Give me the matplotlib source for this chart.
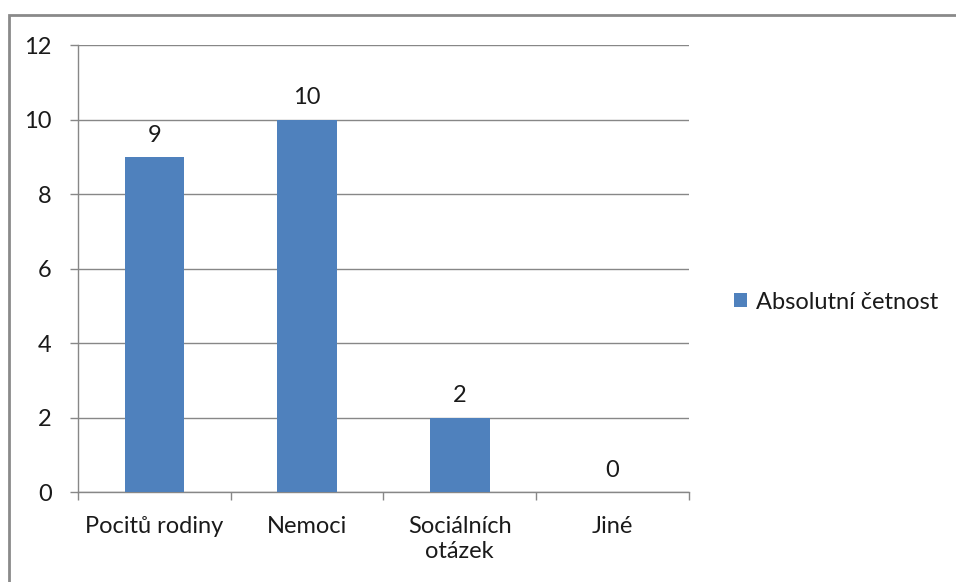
import numpy as np
import matplotlib
matplotlib.use("Agg")
import matplotlib.pyplot as plt
from matplotlib.patches import Rectangle

# Data
categories = ["Pocitů rodiny", "Nemoci", "Sociálních\notázek", "Jiné"]
counts = [9, 10, 2, 0]
series_name = "Absolutní četnost"

bar_color = "#4F81BD"
grid_color = "#878787"
text_color = "#1a1a1a"
fs = 17

plt.rcParams["font.family"] = ["Lato", "DejaVu Sans"]

fig = plt.figure(figsize=(9.56, 5.82), dpi=100)
ax = fig.add_axes([0.0816, 0.1546, 0.639, 0.768])

x = np.arange(len(categories))
bars = ax.bar(x, counts, width=0.39, color=bar_color, zorder=3)

# value labels above the bars
for xi, v in zip(x, counts):
    ax.text(xi, v + 0.3, str(v), ha="center", va="bottom",
            fontsize=fs, color=text_color)

ax.set_ylim(0, 12)
ax.set_xlim(-0.5, len(categories) - 0.5)
ax.set_yticks(range(0, 13, 2))
ax.yaxis.grid(True, color=grid_color, linewidth=1, zorder=0)

# category ticks sit on the boundaries, labels in the middle
ax.set_xticks(np.arange(-0.5, len(categories)), minor=False)
ax.set_xticklabels([])
ax.set_xticks(x, minor=True)
ax.set_xticklabels(categories, minor=True, fontsize=fs, color=text_color,
                   linespacing=1.25)
ax.tick_params(axis="x", which="minor", length=0, pad=17)
ax.tick_params(axis="x", which="major", length=6, color=grid_color, width=1)
ax.tick_params(axis="y", length=6, color=grid_color, width=1, pad=13,
               labelsize=fs, labelcolor=text_color)

for side in ["top", "right"]:
    ax.spines[side].set_visible(False)
for side in ["left", "bottom"]:
    ax.spines[side].set_color(grid_color)
    ax.spines[side].set_linewidth(1)

leg = fig.legend([bars], [series_name], loc="center left",
                 bbox_to_anchor=(0.7675, 0.481), frameon=False,
                 fontsize=fs, handlelength=0.55, handleheight=0.55,
                 handletextpad=0.38, labelcolor=text_color,
                 borderpad=0, borderaxespad=0)

# outer frame of the chart area
fig.patches.append(Rectangle((9 / 956, -0.05), 1.1, 1 - 15 / 582 + 0.05,
                             transform=fig.transFigure, fill=False,
                             edgecolor="#8a8a8a", linewidth=2))

fig.savefig("out.png", dpi=100)
